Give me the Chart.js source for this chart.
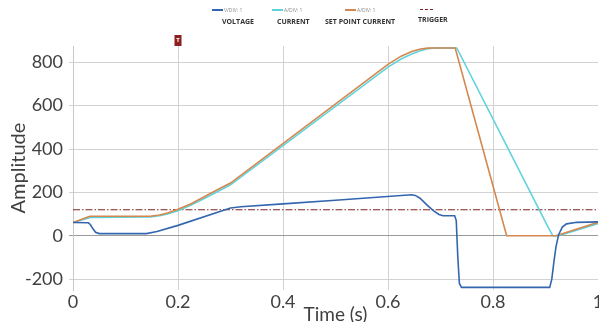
<!DOCTYPE html>
<html>
<head>
<meta charset="utf-8">
<script src="https://cdn.jsdelivr.net/npm/chart.js@4.4.1/dist/chart.umd.min.js"></script>
<style>
  html, body { margin: 0; padding: 0; background: #fff; }
  #wrap { position: relative; width: 599px; height: 322px; overflow: hidden; font-family: "Open Sans", sans-serif; }
  #chart { position: absolute; left: 0; top: 0; }
  .lg-line { position: absolute; height: 2px; }
  .lg-div  { position: absolute; font-size: 5px; line-height: 6px; color: #8a8a8a; white-space: nowrap; }
  .lg-name { position: absolute; font-size: 7px; line-height: 8px; font-weight: 700; color: #333; white-space: nowrap; }
</style>
</head>
<body>
<div id="wrap">
  <canvas id="chart" width="599" height="322"></canvas>

  <!-- legend (scope style: garis kecil + V/DIV, nama di bawahnya) -->
  <div class="lg-line" style="left:212px; top:9px; width:11px; background:#3466b0;"></div>
  <div class="lg-div"  style="left:224px; top:7px;">V/DIV: 1</div>
  <div class="lg-name" style="left:222px; top:18px;">VOLTAGE</div>

  <div class="lg-line" style="left:272px; top:9px; width:11px; background:#5fd3dc;"></div>
  <div class="lg-div"  style="left:284px; top:7px;">A/DIV: 1</div>
  <div class="lg-name" style="left:277px; top:18px;">CURRENT</div>

  <div class="lg-line" style="left:345px; top:9px; width:11px; background:#d4874f;"></div>
  <div class="lg-div"  style="left:357px; top:7px;">A/DIV: 1</div>
  <div class="lg-name" style="left:325px; top:18px;">SET POINT CURRENT</div>

  <div class="lg-line" style="left:420px; top:9px; width:13px; height:0; border-top:1px dashed #7b2323;"></div>
  <div class="lg-name" style="left:418px; top:16px;">TRIGGER</div>
</div>

<script>
// Scope capture: voltage, current, set point current + trigger level.
// Nilai dibaca dari gambar referensi (perkiraan).

const xTicks      = [0, 0.2, 0.4, 0.6, 0.8, 1];
const xTickLabels = ['0', '0.2', '0.4', '0.6', '0.8', '1'];
const yTicks      = [-200, 0, 200, 400, 600, 800];

const voltageTime  = [0, 0.029, 0.033, 0.038, 0.043, 0.05, 0.14, 0.16, 0.2, 0.3, 0.32, 0.4, 0.5, 0.645, 0.652,
                      0.661, 0.675, 0.687, 0.697, 0.705, 0.727, 0.73, 0.733, 0.736, 0.74, 0.908, 0.912, 0.916,
                      0.92, 0.925, 0.932, 0.94, 0.96, 1];
const voltageValue = [61, 60, 52, 32, 16, 10, 10, 20, 48, 128, 134, 147, 164, 189, 186,
                      173, 140, 115, 98, 92, 92, 70, -100, -220, -238, -238, -200, -120,
                      -50, 5, 40, 55, 62, 64];

const currentTime  = [0, 0.035, 0.147, 0.165, 0.18, 0.2, 0.225, 0.25, 0.275, 0.3, 0.6, 0.625, 0.645, 0.66,
                      0.675, 0.69, 0.731, 0.905, 0.914, 0.925, 1];
const currentValue = [61, 85, 87, 92, 100, 115, 142, 172, 203, 235, 778, 815, 838, 852,
                      862, 866, 866, 40, 0, 0, 56];

const setPointTime  = [0, 0.032, 0.147, 0.165, 0.18, 0.2, 0.225, 0.25, 0.275, 0.3, 0.6, 0.625, 0.645, 0.66,
                       0.675, 0.686, 0.728, 0.826, 0.92, 1];
const setPointValue = [61, 90, 90, 96, 105, 122, 148, 180, 212, 243, 790, 828, 850, 860,
                       865, 866, 866, 0, 0, 62];

const triggerTime  = 0.2;
const triggerLevel = 120;

function toPoints(times, values) {
    return times.map((t, i) => ({ x: t, y: values[i] }));
}

// bendera "T" merah di atas area plot, posisi x ikut skala waktu
const triggerFlag = {
    id: 'triggerFlag',
    afterDraw(chart) {
        const { ctx, chartArea, scales } = chart;
        const x = Math.round(scales.x.getPixelForValue(triggerTime));
        const top = chartArea.top;
        ctx.save();
        ctx.fillStyle = '#8c1f1f';
        ctx.fillRect(x - 3.5, top - 11, 7, 11);
        ctx.fillStyle = '#fff';
        ctx.font = 'bold 6px "Open Sans"';
        ctx.textAlign = 'center';
        ctx.textBaseline = 'middle';
        ctx.fillText('T', x, top - 6);
        ctx.restore();
    }
};

const tickFont = { family: 'Lato, sans-serif', size: 18 };

new Chart(document.getElementById('chart'), {
    type: 'line',
    data: {
        datasets: [
            { label: 'VOLTAGE', data: toPoints(voltageTime, voltageValue),
              borderColor: '#3466b0', borderWidth: 1.6 },
            { label: 'SET POINT CURRENT', data: toPoints(setPointTime, setPointValue),
              borderColor: '#d4874f', borderWidth: 1.6 },
            { label: 'CURRENT', data: toPoints(currentTime, currentValue),
              borderColor: '#5fd3dc', borderWidth: 1.6 },
            { label: 'TRIGGER', data: [{ x: xTicks[0], y: triggerLevel }, { x: xTicks[xTicks.length - 1], y: triggerLevel }],
              borderColor: '#7b2323', borderWidth: 1, borderDash: [7, 2, 1.5, 2] }
        ]
    },
    options: {
        responsive: false,
        animation: false,
        devicePixelRatio: 1,
        layout: { padding: { top: 46, right: 1, left: 0, bottom: 0 } },
        elements: {
            point: { radius: 0 },
            line: { tension: 0, fill: false }
        },
        plugins: { legend: { display: false }, tooltip: { enabled: false } },
        scales: {
            x: {
                type: 'linear',
                min: 0,
                max: 1,
                afterBuildTicks: s => { s.ticks = xTicks.map(v => ({ value: v })); },
                afterFit: s => { s.height = 32; s.paddingLeft = 0; s.paddingRight = 0; },
                ticks: {
                    font: tickFont, color: '#404040', padding: 1, maxRotation: 0,
                    callback: (v, i) => xTickLabels[i]
                },
                grid: {
                    drawTicks: false,
                    color: c => (c.tick && (c.tick.value === 0 || c.tick.value === 1)) ? 'rgba(0,0,0,0)' : '#d2d2d2'
                },
                border: { display: false },
                title: {
                    display: true, text: 'Time (s)', color: '#404040',
                    font: { family: 'Lato, sans-serif', size: 19, lineHeight: 1 },
                    padding: { top: 0, bottom: -2 }
                }
            },
            y: {
                min: -250,
                max: 875,
                afterBuildTicks: s => { s.ticks = yTicks.map(v => ({ value: v })); },
                afterFit: s => { s.width = 73; s.paddingTop = 0; s.paddingBottom = 0; },
                ticks: { font: tickFont, color: '#404040', padding: 6 },
                grid: {
                    tickLength: 4,
                    color: c => (c.tick && c.tick.value === 0) ? '#9a9a9a' : '#d2d2d2'
                },
                border: { display: true, color: '#c8c8c8' },
                title: {
                    display: true, text: 'Amplitude', color: '#404040',
                    font: { family: 'Lato, sans-serif', size: 20, lineHeight: 1 },
                    padding: { top: 9, bottom: 0 }
                }
            }
        }
    },
    plugins: [triggerFlag]
});
</script>
</body>
</html>
